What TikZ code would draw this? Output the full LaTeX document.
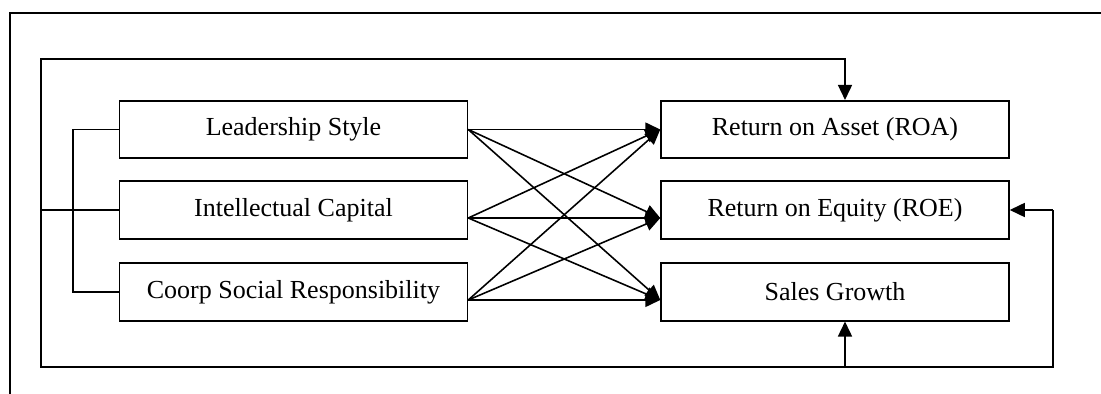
\documentclass[tikz,border=0pt]{standalone}
\usepackage{fontspec}
\setmainfont{Liberation Serif}
\usetikzlibrary{arrows.meta}

\begin{document}
\begin{tikzpicture}[x=0.02cm, y=-0.02cm, line width=0.9pt,
    caja/.style={draw, minimum width=6.96cm, minimum height=1.15cm,
        inner sep=0pt, font=\fontsize{14.8}{17}\selectfont},
    flecha/.style={-{Triangle[length=0.3cm, width=0.28cm]}}]
    \useasboundingbox (0,0) rectangle (1101,394);

    % Marco exterior
    \draw (10,394) -- (10,13) -- (1101,13);

    % Variables independientes
    \node[caja] (ls)  at (293.5,129.5) {Leadership Style};
    \node[caja] (ic)  at (293.5,210)   {Intellectual Capital};
    \node[caja] (csr) at (293.5,292)   {Coorp Social Responsibility};

    % Variables dependientes
    \node[caja] (roa) at (835,129.5) {Return on Asset (ROA)};
    \node[caja] (roe) at (835,210)   {Return on Equity (ROE)};
    \node[caja] (sg)  at (835,292)   {Sales Growth};

    % Relaciones cruzadas
    \foreach \s/\ds in {ls/0, ic/-0.16, csr/-0.16}{
        \foreach \t/\dt in {roa/0, roe/-0.16, sg/-0.16}{
            \draw[flecha] ([yshift=\ds cm]\s.east) -- ([yshift=\dt cm]\t.west);
        }
    }

    % Conexion simultanea
    \draw (ls.west) -- ++(-46,0) |- (csr.west);
    \coordinate (tl) at (41,59);
    \coordinate (tr) at (845,59);
    \coordinate (bl) at (41,367);
    \coordinate (bm) at (845,367);
    \coordinate (br) at (1053,367);
    \coordinate (rm) at (1053,210);
    \draw (ic.west) -- (ic.west -| tl);
    \draw[flecha] (bl) -- (tl) -- (tr) -- (roa.north -| tr);
    \draw (tl) -- (bl) -- (br) -- (rm);
    \draw[flecha] (rm) -- (roe.east);
    \draw[flecha] (bm) -- (sg.south -| bm);
\end{tikzpicture}
\end{document}
